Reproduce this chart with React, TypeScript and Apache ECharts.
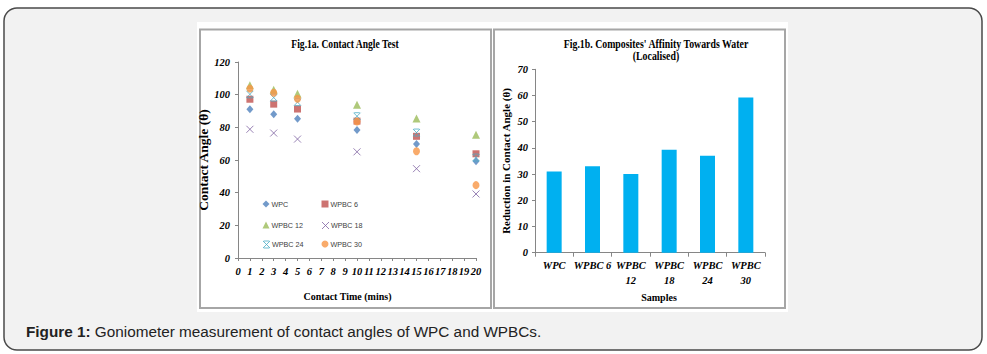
import React, { useEffect, useRef } from 'react';
import * as echarts from 'echarts';

// ---- Data ----
const times = [1, 3, 5, 10, 15, 20];
const wpc = [91, 88, 85.3, 78.4, 69.8, 59.2];
const wpbc6 = [97.2, 94.2, 91.2, 83.8, 74.5, 63.8];
const wpbc12 = [105.8, 103, 100.6, 93.8, 85.4, 75.4];
const wpbc18 = [78.8, 76.5, 72.8, 65, 54.7, 39.2];
const wpbc24 = [100.2, 98.2, 95.4, 86.8, 76.8, 61.5];
const wpbc30 = [103.7, 101.2, 97.5, 83.6, 65.4, 44.6];

const samples = ['WPC', 'WPBC 6', 'WPBC 12', 'WPBC 18', 'WPBC 24', 'WPBC 30'];
const reduction = [31, 33, 30, 39.3, 37, 59.2];

const serif = '"Liberation Serif", "Times New Roman", serif';
const sans = '"Liberation Sans", Arial, sans-serif';

const X_PATH = 'path://M0,0L10,10M10,0L0,10';
const STAR_PATH = 'path://M0,0L10,10M10,0L0,10M1,0L9,0M1,10L9,10';

const scatterDefs = [
  { name: 'WPC', data: wpc, color: '#4F81BD', symbol: 'diamond', size: [7, 8], stroke: false },
  { name: 'WPBC 6', data: wpbc6, color: '#C0504D', symbol: 'rect', size: 7, stroke: false },
  { name: 'WPBC 12', data: wpbc12, color: '#9BBB59', symbol: 'triangle', size: [8, 8], stroke: false },
  { name: 'WPBC 18', data: wpbc18, color: '#8064A2', symbol: X_PATH, size: 7, stroke: true },
  { name: 'WPBC 24', data: wpbc24, color: '#4BACC6', symbol: STAR_PATH, size: 7, stroke: true },
  { name: 'WPBC 30', data: wpbc30, color: '#F79646', symbol: 'circle', size: [7, 8], stroke: false },
];

const legendPos = [
  [266, 204], [325, 204],
  [266, 225], [325, 225],
  [266, 244], [325, 244],
];

export default function App() {
  const ref = useRef<HTMLDivElement>(null);

  useEffect(() => {
    if (!ref.current) return;
    const chart = echarts.init(ref.current, null, { renderer: 'svg' });

    const axisLineStyle = { color: '#868686', width: 1 };
    const tickLabel = {
      fontFamily: serif,
      fontWeight: 'bold' as const,
      fontStyle: 'italic' as const,
      fontSize: 10.5,
      color: '#000',
    };
    const nameStyle = { fontFamily: serif, fontWeight: 'bold' as const, fontSize: 10, color: '#000' };

    const series: any[] = scatterDefs.map((d) => ({
      type: 'scatter',
      name: d.name,
      xAxisIndex: 0,
      yAxisIndex: 0,
      symbol: d.symbol,
      symbolSize: d.size,
      data: times.map((t, i) => [t, d.data[i]]),
      itemStyle: d.stroke
        ? { color: 'rgba(0,0,0,0)', borderColor: d.color, borderWidth: 1 }
        : { color: d.color },
    }));

    series.push({
      type: 'bar',
      name: 'Reduction',
      xAxisIndex: 1,
      yAxisIndex: 1,
      data: reduction,
      barWidth: 15,
      itemStyle: { color: '#00B0F0' },
    });

    const legends = scatterDefs.map((d, i) => ({
      data: [d.name],
      left: legendPos[i][0] - 3.5,
      top: legendPos[i][1] - 3.5,
      padding: 0,
      itemWidth: 7,
      itemHeight: 7,
      selectedMode: false,
      itemStyle: d.stroke
        ? { color: 'rgba(0,0,0,0)', borderColor: d.color, borderWidth: 1 }
        : { color: d.color },
      textStyle: { fontFamily: sans, fontSize: 7.2, color: '#404040', padding: [0, 0, 0, -3] },
    }));

    const titleText = (text: string, x: number, y: number, sx: number) => ({
      type: 'text',
      z: 10,
      x,
      y,
      scaleX: sx,
      style: {
        text,
        font: `bold 12px ${serif}`,
        fill: '#000',
        align: 'center',
        verticalAlign: 'middle',
      },
    });

    chart.setOption({
      animation: false,
      graphic: [
        {
          type: 'rect',
          z: -10,
          shape: { x: 4, y: 8, width: 978, height: 342, r: 13 },
          style: { fill: '#f2f2f2', stroke: '#4a4a4a', lineWidth: 1.5 },
        },
        {
          type: 'rect',
          z: -9,
          shape: { x: 197, y: 22, width: 591, height: 290 },
          style: { fill: '#ffffff' },
        },
        {
          type: 'rect',
          z: -8,
          shape: { x: 200, y: 29.5, width: 291, height: 278.5 },
          style: { fill: '#ffffff', stroke: '#a6a6a6', lineWidth: 2 },
        },
        {
          type: 'rect',
          z: -8,
          shape: { x: 494, y: 29.5, width: 291, height: 278.5 },
          style: { fill: '#ffffff', stroke: '#a6a6a6', lineWidth: 2 },
        },
        titleText('Fig.1a. Contact Angle Test', 345, 44, 0.8),
        titleText("Fig.1b. Composites' Affinity Towards Water", 656, 44, 0.82),
        titleText('(Localised)', 656, 56, 0.82),
        {
          type: 'text',
          z: 10,
          x: 26,
          y: 331,
          style: {
            text: '{b|Figure 1:} Goniometer measurement of contact angles of WPC and WPBCs.',
            fontFamily: sans,
            fontSize: 15.3,
            fill: '#222',
            verticalAlign: 'middle',
            rich: {
              b: { fontFamily: sans, fontSize: 15.3, fontWeight: 'bold', fill: '#222' },
            },
          },
        },
      ],
      legend: legends,
      grid: [
        { left: 238, right: 511, top: 62, bottom: 96 },
        { left: 535, right: 222, top: 69.3, bottom: 101.3 },
      ],
      xAxis: [
        {
          gridIndex: 0,
          type: 'value',
          min: 0,
          max: 20,
          interval: 1,
          axisLine: { show: true, lineStyle: axisLineStyle },
          axisTick: { show: true, length: 3, lineStyle: axisLineStyle },
          splitLine: { show: false },
          axisLabel: { ...tickLabel, margin: 8 },
          name: 'Contact Time (mins)',
          nameLocation: 'middle',
          nameGap: 33,
          nameTextStyle: { ...nameStyle, padding: [0, 19, 0, 0] },
        },
        {
          gridIndex: 1,
          type: 'category',
          data: samples,
          axisLine: { show: true, lineStyle: axisLineStyle },
          axisTick: { show: true, length: 4, lineStyle: axisLineStyle },
          splitLine: { show: false },
          axisLabel: {
            ...tickLabel,
            fontSize: 10.5,
            margin: 5,
            lineHeight: 15,
            interval: 0,
            formatter: (v: string) => (v.length > 6 ? v.replace(' ', '\n') : v),
          },
          name: 'Samples',
          nameLocation: 'middle',
          nameGap: 40,
          nameTextStyle: { ...nameStyle, padding: [0, 0, 0, 18] },
        },
      ],
      yAxis: [
        {
          gridIndex: 0,
          type: 'value',
          min: 0,
          max: 120,
          interval: 20,
          axisLine: { show: true, lineStyle: axisLineStyle },
          axisTick: { show: true, length: 3, lineStyle: axisLineStyle },
          splitLine: { show: false },
          axisLabel: { ...tickLabel, margin: 8 },
          name: 'Contact Angle (θ)',
          nameLocation: 'middle',
          nameGap: 22,
          nameTextStyle: { ...nameStyle, fontSize: 13.5 },
        },
        {
          gridIndex: 1,
          type: 'value',
          min: 0,
          max: 70,
          interval: 10,
          axisLine: { show: true, lineStyle: axisLineStyle },
          axisTick: { show: true, length: 3, lineStyle: axisLineStyle },
          splitLine: { show: false },
          axisLabel: { ...tickLabel, margin: 7 },
          name: 'Reduction in Contact Angle (θ)',
          nameLocation: 'middle',
          nameGap: 24,
          nameTextStyle: { ...nameStyle, fontSize: 11 },
        },
      ],
      series,
    });

    return () => chart.dispose();
  }, []);

  return (
    <div
      ref={ref}
      style={{ position: 'absolute', left: 0, top: 0, width: 987, height: 354 }}
    />
  );
}
